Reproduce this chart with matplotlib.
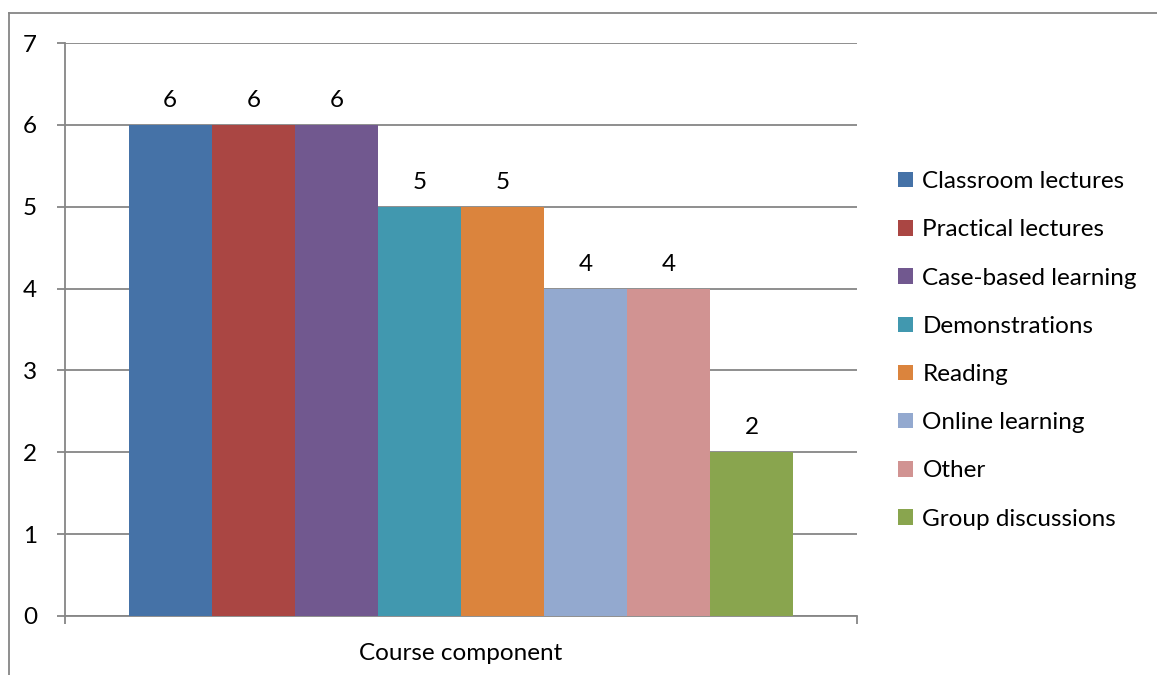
import matplotlib
matplotlib.use("Agg")
import matplotlib.pyplot as plt
from matplotlib.lines import Line2D
from matplotlib.patches import Patch

# Number of courses using each component
components = ['Classroom lectures', 'Practical lectures', 'Case-based learning',
              'Demonstrations', 'Reading', 'Online learning', 'Other',
              'Group discussions']
counts = [6, 6, 6, 5, 5, 4, 4, 2]
colors = ['#4572A7', '#AA4643', '#71588F', '#4198AF',
          '#DB843D', '#93A9CF', '#D19392', '#89A54E']

plt.rcParams['font.family'] = ['Lato', 'DejaVu Sans']
grey = '#868686'
fs = 17.5

fig = plt.figure(figsize=(11.57, 6.75), dpi=100)
W, H = 1157, 675
ax = fig.add_axes([65 / W, 1 - 616 / H, (857 - 65) / W, (616 - 43) / H])

n = len(counts)
pos = [i - (n - 1) / 2 for i in range(n)]
bars = ax.bar(pos, counts, width=1.0, color=colors, zorder=3)
for b, v in zip(bars, counts):
    ax.annotate(str(v), (b.get_x() + b.get_width() / 2, v), xytext=(0, 17.5),
                textcoords='offset points', ha='center', va='center', fontsize=fs)

half = 792 / 83.1 / 2
ax.set_xlim(-half, half)
ax.set_ylim(0, 7)
ax.set_yticks(range(8))
ax.yaxis.grid(True, color=grey, linewidth=1.3, zorder=0)
ax.set_xticks([-half, half])
ax.set_xticklabels(['', ''])
ax.tick_params(axis='both', colors=grey, length=6, width=1.3, labelcolor='black',
               labelsize=fs)
ax.tick_params(axis='y', pad=14)
for s in ['top', 'right']:
    ax.spines[s].set_visible(False)
for s in ['left', 'bottom']:
    ax.spines[s].set_color(grey)
    ax.spines[s].set_linewidth(1.3)
ax.set_xlabel('Course component', fontsize=fs, labelpad=10)

handles = [Patch(facecolor=c, edgecolor='none') for c in colors]
fig.legend(handles, components, loc='upper left',
           bbox_to_anchor=(886 / W, 1 - 159 / H), frameon=False, fontsize=fs,
           handlelength=0.6, handleheight=0.6, handletextpad=0.4,
           labelspacing=1.12, borderpad=0)

# outer chart border
fig.add_artist(Line2D([9 / W, 9 / W], [1 - 13 / H, 0], transform=fig.transFigure,
                      color=grey, linewidth=1.3))
fig.add_artist(Line2D([9 / W, 1], [1 - 13 / H, 1 - 13 / H], transform=fig.transFigure,
                      color=grey, linewidth=1.3))

fig.savefig('out.png', dpi=100)
